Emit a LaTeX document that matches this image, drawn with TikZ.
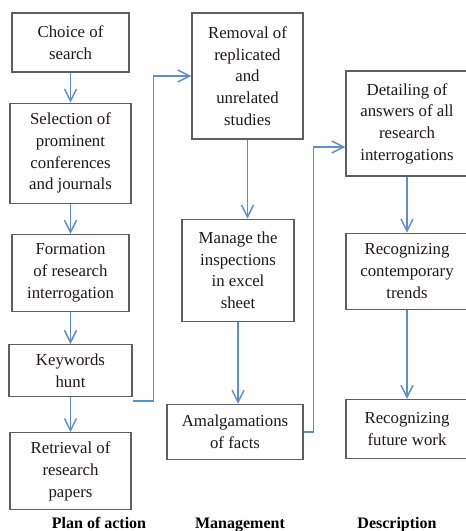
\documentclass[tikz,border=0pt]{standalone}
\usepackage{fontspec}
\setmainfont{Liberation Serif}
\usetikzlibrary{arrows.meta, positioning}
\definecolor{flowblue}{RGB}{95,142,204}
\definecolor{boxgray}{RGB}{95,95,95}
\definecolor{inkdark}{RGB}{30,24,24}

\begin{document}
\begin{tikzpicture}[
    x=0.75pt, y=-0.75pt,
    font=\fontsize{12.6}{16.3}\selectfont,
    >={Straight Barb[length=9pt,width=9pt]},
    line/.style    = {draw=flowblue, line width=1.1pt, ->},
    block/.style   = {rectangle, draw=boxgray, line width=0.9pt, align=center,
      text=inkdark, inner sep=3pt},
    heading/.style = {font=\fontsize{12}{14}\selectfont\bfseries, text=black,
      anchor=base, inner sep=0pt}
  ]
  \useasboundingbox (0,0) rectangle (466,531);

  % ---------------- plan of action ----------------
  \node[block, minimum width=87.75pt, minimum height=44.25pt] (choice) at (70.5,42.5)
  {Choice of\\search};
  \node[block, below=22.5pt of choice, minimum width=90.75pt, minimum height=75pt] (select)
  {Selection of\\prominent\\conferences\\and journals};
  \node[block, below=22.5pt of select, minimum width=87.75pt, minimum height=57.75pt] (formation)
  {Formation\\of research\\interrogation};
  \node[block, below=24pt of formation, minimum width=92.25pt, minimum height=39pt] (keywords)
  {Keywords\\hunt};
  \node[block, below=26.25pt of keywords, minimum width=90.75pt, minimum height=57.75pt] (retrieval)
  {Retrieval of\\research\\papers};

  % ---------------- management ----------------
  \node[block, minimum width=83.25pt, minimum height=94.5pt] (removal) at (247.5,76)
  {Removal of\\replicated\\and\\unrelated\\studies};
  \node[block, below=59.25pt of removal, xshift=-7.1pt, minimum width=84pt,
  minimum height=76.5pt] (manage)
  {Manage the\\inspections\\in excel\\sheet};
  \node[block, below=61.5pt of manage, xshift=-2.25pt, minimum width=102pt,
  minimum height=41.25pt] (amalg)
  {Amalgamations\\of facts};

  % ---------------- description ----------------
  \node[block, minimum width=91.5pt, minimum height=78.75pt] (detailing) at (407,123.5)
  {Detailing of\\answers of all\\research\\interrogations};
  \node[block, below=42pt of detailing, minimum width=91.5pt, minimum height=57pt] (trends)
  {Recognizing\\contemporary\\trends};
  \node[block, below=66.75pt of trends, minimum width=91.5pt, minimum height=44.25pt] (future)
  {Recognizing\\future work};

  % column titles
  \node[heading] (planTitle) at (99,528) {Plan of action};
  \node[heading] (manTitle)  at (240,528) {Management};
  \node[heading] (descTitle) at (397,528) {Description};

  % ---------------- arrows (columns) -------------
  \draw[line] (choice) -- (select);
  \draw[line] (select) -- (formation);
  \draw[line] (formation) -- (keywords);
  \draw[line] (keywords) -- (retrieval);

  \draw[line] (removal.south) -- (removal.south |- manage.north);
  \draw[line] (manage.south) -- (manage.south |- amalg.north);

  \draw[line] (detailing) -- (trends);
  \draw[line] (trends) -- (future);

  % ---------------- arrows (between columns) ------------
  \draw[line] ([yshift=-3pt]keywords.south east) -- ++(15.75pt,0) |- (removal.west);
  \draw[line] (amalg.east) -- ++(7.5pt,0) |- ([yshift=-17.6pt]detailing.west);

\end{tikzpicture}
\end{document}
